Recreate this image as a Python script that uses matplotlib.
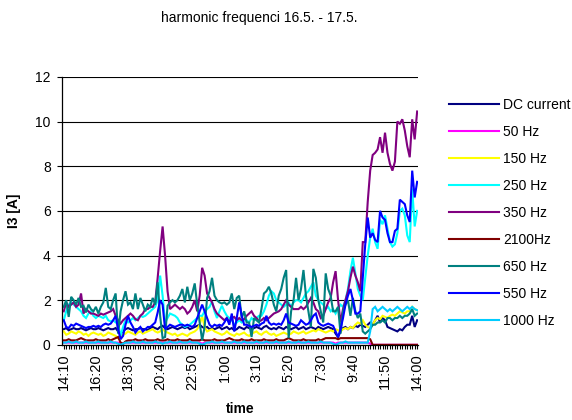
#!/usr/bin/env python3
"""Harmonic current I3 over one day, 16.5. - 17.5. (10 minute samples)."""

import matplotlib
matplotlib.use("Agg")
import matplotlib.pyplot as plt

plt.rcParams["font.family"] = ["Liberation Sans", "DejaVu Sans"]

# tick labels along the time axis (every 13th sample)
tick_labels = ["14:10", "16:20", "18:30", "20:40", "22:50", "1:00",
               "3:10", "5:20", "7:30", "9:40", "11:50", "14:00"]

series_names = ["DC current", "50 Hz", "150 Hz", "250 Hz", "350 Hz",
                "2100Hz", "650 Hz", "550 Hz", "1000 Hz"]

dc_current = [
    0.7, 0.75, 0.65, 0.7, 0.75, 0.7, 0.7, 0.75, 0.7, 0.65, 0.7, 0.75,
    0.7, 0.7, 0.75, 0.7, 0.65, 0.7, 0.75, 0.7, 0.7, 0.75, 0.6, 0.5,
    0.6, 0.7, 0.75, 0.7, 0.65, 0.7, 0.7, 0.75, 0.7, 0.7, 0.65, 0.75,
    0.8, 0.75, 0.7, 0.8, 0.85, 0.75, 0.7, 0.75, 0.8, 0.75, 0.7, 0.75,
    0.8, 0.75, 0.8, 0.7, 0.75, 0.8, 0.85, 0.9, 0.8, 0.75, 0.8, 0.7,
    0.75, 0.7, 0.75, 0.8, 0.7, 0.75, 0.8, 0.7, 0.75, 0.65, 0.7, 0.8,
    0.75, 0.7, 0.8, 0.75, 0.7, 0.75, 0.8, 0.75, 0.7, 0.8, 0.85, 0.75,
    0.7, 0.75, 0.7, 0.8, 0.75, 0.7, 0.8, 0.75, 0.7, 0.75, 0.8, 0.7,
    0.75, 0.8, 0.7, 0.75, 0.8, 0.75, 0.7, 0.8, 0.75, 0.7, 0.75, 0.8,
    0.75, 0.7, 0.5, 0.35, 0.6, 0.75, 0.8, 0.7, 0.8, 0.75, 0.85, 0.8,
    0.9, 0.85, 0.8, 0.9, 1.0, 0.9, 1.1, 1.3, 1.0, 1.2, 1.1, 0.8,
    0.75, 0.7, 0.65, 0.6, 0.7, 0.65, 0.8, 0.9, 0.9, 1.3, 0.8, 1.1,
]

hz_50 = [
    0.1, 0.1, 0.1, 0.1, 0.1, 0.1, 0.1, 0.1, 0.1, 0.1, 0.1, 0.1,
    0.1, 0.1, 0.1, 0.1, 0.1, 0.1, 0.1, 0.1, 0.1, 0.1, 0.1, 0.05,
    0.05, 0.1, 0.1, 0.1, 0.1, 0.1, 0.1, 0.1, 0.1, 0.1, 0.1, 0.1,
    0.1, 0.1, 0.1, 0.1, 0.1, 0.1, 0.1, 0.1, 0.1, 0.1, 0.1, 0.1,
    0.1, 0.1, 0.1, 0.1, 0.1, 0.1, 0.1, 0.1, 0.05, 0.1, 0.1, 0.1,
    0.1, 0.1, 0.1, 0.1, 0.1, 0.1, 0.1, 0.1, 0.1, 0.1, 0.1, 0.1,
    0.1, 0.1, 0.1, 0.1, 0.1, 0.1, 0.1, 0.1, 0.1, 0.1, 0.1, 0.1,
    0.1, 0.1, 0.1, 0.1, 0.1, 0.1, 0.1, 0.1, 0.1, 0.1, 0.1, 0.1,
    0.1, 0.1, 0.1, 0.1, 0.1, 0.1, 0.1, 0.1, 0.1, 0.1, 0.1, 0.1,
    0.1, 0.1, 0.05, 0.1, 0.1, 0.1, 0.1, 0.1, 0.1, 0.1, 0.1, 0.1,
    0.1, 0.1, 0.1, 0.1, 0.05, 0.0, 0.0, 0.0, 0.0, 0.0, 0.0, 0.0,
    0.0, 0.0, 0.0, 0.0, 0.0, 0.0, 0.0, 0.0, 0.0, 0.0, 0.0, 0.0,
]

hz_150 = [
    0.6, 0.45, 0.5, 0.6, 0.55, 0.5, 0.6, 0.55, 0.45, 0.5, 0.4, 0.5,
    0.55, 0.5, 0.45, 0.5, 0.4, 0.45, 0.55, 0.5, 0.45, 0.4, 0.3, 0.35,
    0.45, 0.5, 0.6, 0.55, 0.5, 0.45, 0.55, 0.6, 0.5, 0.55, 0.6, 0.65,
    0.7, 0.6, 0.55, 0.6, 0.7, 0.6, 0.55, 0.5, 0.45, 0.5, 0.4, 0.45,
    0.5, 0.45, 0.4, 0.5, 0.55, 0.6, 0.7, 0.9, 1.3, 0.8, 0.6, 0.65,
    0.7, 0.6, 0.55, 0.5, 0.45, 0.5, 0.6, 0.5, 0.45, 0.4, 0.5, 0.45,
    0.5, 0.55, 0.45, 0.4, 0.5, 0.55, 0.6, 0.5, 0.45, 0.55, 0.6, 0.5,
    0.45, 0.5, 0.4, 0.45, 0.5, 0.55, 0.5, 0.45, 0.5, 0.6, 0.55, 0.5,
    0.55, 0.6, 0.5, 0.55, 0.6, 0.65, 0.6, 0.7, 0.65, 0.6, 0.55, 0.6,
    0.65, 0.6, 0.7, 0.65, 0.6, 0.7, 0.75, 0.7, 0.8, 0.75, 0.9, 1.0,
    0.95, 1.1, 0.9, 0.8, 0.75, 0.9, 1.1, 1.2, 1.15, 1.3, 1.25, 1.2,
    1.3, 1.35, 1.3, 1.4, 1.5, 1.45, 1.4, 1.5, 1.5, 1.7, 1.6, 1.55,
]

hz_250 = [
    1.1, 1.5, 1.8, 1.9, 1.8, 1.7, 1.6, 1.5, 1.3, 1.2, 1.4, 1.5,
    1.3, 1.2, 1.3, 1.25, 1.2, 1.3, 1.1, 1.05, 1.1, 1.0, 0.95, 0.4,
    0.8, 1.1, 1.0, 1.1, 1.2, 1.1, 1.2, 1.3, 1.25, 1.3, 1.4, 1.5,
    1.6, 1.7, 2.0, 3.1, 2.2, 1.0, 1.2, 1.4, 1.35, 1.3, 1.2, 1.0,
    0.9, 0.8, 0.85, 0.9, 1.0, 1.1, 1.2, 1.3, 1.3, 1.5, 1.6, 1.7,
    1.95, 1.5, 1.2, 1.5, 1.75, 1.5, 1.3, 1.2, 1.1, 0.9, 1.0, 1.1,
    1.0, 1.1, 1.1, 1.0, 1.2, 1.1, 1.2, 1.3, 1.3, 1.5, 1.8, 2.2,
    2.4, 2.3, 2.0, 1.9, 1.8, 1.7, 1.8, 1.9, 1.7, 1.9, 2.0, 2.0,
    1.9, 2.1, 2.3, 2.4, 2.6, 2.8, 2.2, 2.0, 1.9, 1.8, 1.6, 1.7,
    1.5, 1.6, 1.4, 1.6, 1.8, 1.7, 2.0, 2.5, 3.3, 3.9, 3.2, 2.5,
    2.2, 2.0, 3.0, 4.0, 4.8, 5.2, 4.6, 4.3, 5.6, 5.4, 5.8, 5.2,
    4.6, 4.4, 4.5, 5.0, 6.0, 6.1, 5.8, 4.9, 4.6, 7.0, 5.3, 6.0,
]

hz_350 = [
    1.5, 1.9, 1.7, 1.8, 1.9, 1.7, 1.8, 2.3, 1.4, 1.6, 1.5, 1.4,
    1.4, 1.35, 1.3, 1.4, 1.35, 1.4, 1.45, 1.5, 1.6, 1.3, 1.1, 0.95,
    1.1, 1.2, 1.3, 1.4, 1.3, 1.15, 1.1, 1.3, 1.4, 1.6, 1.6, 1.7,
    1.7, 1.9, 3.0, 4.2, 5.3, 4.0, 2.4, 1.6, 1.7, 1.8, 1.7, 1.6,
    1.7, 1.6, 1.4, 1.5, 1.7, 2.0, 1.5, 2.2, 3.45, 3.1, 2.3, 2.1,
    1.9, 1.6, 1.4, 1.3, 1.2, 1.1, 1.2, 1.0, 1.2, 1.25, 1.1, 1.2,
    1.1, 1.15, 1.3, 1.4, 1.5, 1.3, 1.2, 1.05, 1.1, 1.2, 1.1, 1.2,
    1.3, 1.4, 1.45, 1.5, 1.6, 1.8, 2.0, 1.8, 1.7, 1.6, 1.6, 1.6,
    1.7, 1.6, 1.7, 1.9, 2.1, 1.9, 1.6, 1.5, 1.2, 1.3, 1.6, 1.9,
    2.1, 2.8, 3.3, 2.0, 1.0, 1.6, 2.0, 2.4, 3.0, 3.5, 3.1, 2.8,
    2.4, 4.6, 4.6, 6.4, 7.8, 8.5, 8.6, 8.75, 9.3, 8.6, 9.5, 8.6,
    8.1, 7.8, 8.2, 10.0, 9.9, 10.1, 9.6, 8.9, 8.4, 10.1, 9.2, 10.45,
]

hz_2100 = [
    0.2, 0.2, 0.25, 0.2, 0.2, 0.2, 0.25, 0.3, 0.25, 0.2, 0.2, 0.2,
    0.2, 0.25, 0.2, 0.2, 0.2, 0.2, 0.25, 0.2, 0.25, 0.3, 0.35, 0.1,
    0.05, 0.15, 0.2, 0.2, 0.2, 0.25, 0.2, 0.2, 0.2, 0.25, 0.2, 0.2,
    0.2, 0.2, 0.25, 0.2, 0.2, 0.2, 0.25, 0.2, 0.2, 0.2, 0.25, 0.2,
    0.2, 0.2, 0.2, 0.25, 0.2, 0.2, 0.2, 0.2, 0.25, 0.2, 0.2, 0.2,
    0.2, 0.25, 0.2, 0.2, 0.2, 0.2, 0.25, 0.3, 0.25, 0.2, 0.2, 0.2,
    0.25, 0.2, 0.2, 0.2, 0.25, 0.2, 0.2, 0.2, 0.2, 0.25, 0.2, 0.2,
    0.2, 0.2, 0.25, 0.2, 0.2, 0.2, 0.25, 0.3, 0.25, 0.2, 0.2, 0.2,
    0.2, 0.25, 0.2, 0.2, 0.2, 0.2, 0.2, 0.25, 0.2, 0.25, 0.3, 0.3,
    0.3, 0.3, 0.3, 0.25, 0.3, 0.3, 0.3, 0.3, 0.3, 0.3, 0.3, 0.3,
    0.3, 0.3, 0.3, 0.3, 0.25, 0.0, 0.0, 0.0, 0.0, 0.0, 0.0, 0.0,
    0.0, 0.0, 0.0, 0.0, 0.0, 0.0, 0.0, 0.0, 0.0, 0.0, 0.0, 0.0,
]

hz_650 = [
    1.7, 2.0, 1.25, 2.15, 2.0, 1.8, 2.1, 1.7, 1.75, 1.45, 1.8, 1.6,
    1.5, 1.7, 1.4, 1.7, 1.9, 2.55, 1.7, 1.6, 2.0, 2.3, 0.5, 1.5,
    2.0, 2.4, 1.8, 1.9, 1.6, 2.3, 1.6, 2.1, 1.8, 1.5, 1.8, 1.7,
    2.1, 1.8, 2.8, 1.3, 0.3, 0.35, 1.75, 1.9, 2.0, 1.9, 2.0, 2.2,
    2.5, 1.9, 2.6, 2.0, 2.3, 2.75, 1.8, 1.0, 0.2, 0.8, 2.1, 2.4,
    3.0, 2.2, 2.0, 1.9, 1.85, 1.9, 1.8, 1.9, 2.3, 1.6, 2.1, 2.2,
    1.2, 1.5, 1.0, 1.0, 0.35, 1.2, 1.1, 1.0, 1.6, 2.3, 2.4, 2.6,
    2.3, 1.8, 1.5, 2.2, 2.5, 3.0, 3.35, 0.3, 1.5, 2.0, 3.0, 2.0,
    2.5, 3.35, 2.2, 1.5, 0.8, 3.4, 3.0, 2.0, 1.5, 1.0, 3.2, 2.5,
    2.2, 1.5, 1.5, 1.7, 0.5, 1.5, 1.8, 2.0, 1.3, 2.1, 1.5, 1.2,
    1.4, 0.6, 0.5, 0.6, 0.7, 0.9, 0.9, 1.0, 1.0, 1.1, 1.0, 1.2,
    1.2, 1.1, 1.2, 1.2, 1.3, 1.2, 1.3, 1.3, 1.4, 1.6, 1.3, 1.4,
]

hz_550 = [
    1.1, 0.8, 0.75, 0.9, 0.85, 0.95, 0.9, 0.85, 0.8, 0.75, 0.8, 0.8,
    0.85, 0.8, 0.85, 0.8, 0.9, 0.95, 0.9, 0.95, 1.1, 1.3, 0.7, 0.25,
    0.4, 0.9, 1.3, 1.0, 0.8, 0.55, 0.7, 0.8, 0.6, 0.7, 0.8, 0.8,
    0.9, 1.0, 1.45, 2.0, 1.8, 0.7, 0.8, 0.9, 0.85, 0.8, 0.85, 0.9,
    0.9, 0.85, 0.9, 0.85, 0.8, 0.9, 1.2, 1.5, 1.8, 1.5, 1.2, 0.9,
    0.8, 0.9, 0.85, 0.9, 0.85, 1.0, 1.2, 0.9, 1.4, 0.6, 1.2, 1.9,
    1.3, 0.9, 0.9, 0.85, 0.8, 0.85, 0.9, 0.85, 0.95, 1.0, 1.3, 1.0,
    0.9, 0.95, 0.9, 0.95, 0.9, 1.1, 1.4, 1.0, 0.95, 0.9, 0.85, 0.9,
    1.1, 1.0, 0.9, 0.95, 1.1, 1.3, 1.4, 1.0, 0.9, 0.85, 0.9, 0.95,
    0.9, 0.85, 0.6, 0.35, 0.7, 1.2, 1.8, 2.2, 2.5, 2.0, 1.4, 1.4,
    1.5, 3.0, 4.5, 5.7, 4.8, 5.0, 4.7, 4.6, 6.0, 5.7, 5.6, 5.0,
    4.6, 4.6, 5.1, 5.2, 6.5, 6.4, 6.3, 5.8, 5.5, 7.8, 6.6, 7.3,
]

hz_1000 = [
    0.1, 0.1, 0.15, 0.1, 0.1, 0.15, 0.1, 0.1, 0.1, 0.15, 0.1, 0.1,
    0.1, 0.1, 0.15, 0.1, 0.1, 0.1, 0.1, 0.15, 0.1, 0.1, 0.05, 0.0,
    0.05, 0.1, 0.1, 0.1, 0.15, 0.1, 0.1, 0.1, 0.15, 0.1, 0.1, 0.1,
    0.1, 0.15, 0.1, 0.1, 0.05, 0.1, 0.1, 0.15, 0.1, 0.1, 0.1, 0.15,
    0.1, 0.1, 0.1, 0.15, 0.1, 0.1, 0.1, 0.05, 0.0, 0.05, 0.1, 0.1,
    0.15, 0.1, 0.1, 0.1, 0.15, 0.1, 0.1, 0.1, 0.1, 0.15, 0.1, 0.1,
    0.1, 0.15, 0.1, 0.1, 0.1, 0.1, 0.15, 0.1, 0.1, 0.1, 0.15, 0.1,
    0.1, 0.1, 0.15, 0.1, 0.1, 0.1, 0.1, 0.15, 0.1, 0.1, 0.1, 0.15,
    0.1, 0.1, 0.1, 0.15, 0.1, 0.1, 0.1, 0.1, 0.15, 0.1, 0.1, 0.1,
    0.1, 0.05, 0.0, 0.05, 0.1, 0.1, 0.15, 0.1, 0.1, 0.1, 0.1, 0.1,
    0.1, 0.1, 0.1, 0.1, 0.6, 1.6, 1.7, 1.5, 1.6, 1.7, 1.6, 1.5,
    1.6, 1.5, 1.6, 1.7, 1.6, 1.5, 1.6, 1.7, 1.6, 1.7, 1.6, 1.55,
]

series_values = [dc_current, hz_50, hz_150, hz_250, hz_350,
                 hz_2100, hz_650, hz_550, hz_1000]
colors = ["#000080", "#FF00FF", "#FFFF00", "#00FFFF", "#800080",
          "#800000", "#008080", "#0000FF", "#00CCFF"]

n_points = len(dc_current)

fig = plt.figure(figsize=(5.72, 4.2), dpi=100)
ax = fig.add_axes([0.108, 0.179, 0.623, 0.638])

for name, vals, col in zip(series_names, series_values, colors):
    ax.plot(range(len(vals)), vals, color=col, lw=1.5, label=name,
            solid_joinstyle="miter")

# axes / grid
ax.set_ylim(0, 12)
ax.set_yticks(range(0, 13, 2))
ax.set_xlim(-0.8, n_points - 0.6)
ax.yaxis.grid(True, color="black", lw=0.8)
ax.set_axisbelow(True)
for side in ["top", "right"]:
    ax.spines[side].set_visible(False)
ax.spines["left"].set_linewidth(0.9)
ax.spines["bottom"].set_linewidth(0.9)

ax.set_xticks(range(n_points))
labels = [""] * n_points
for k, lab in enumerate(tick_labels):
    labels[k * 13] = lab
ax.set_xticklabels(labels, rotation=90, fontsize=10.5)
ax.tick_params(axis="x", direction="out", length=3, width=0.8, pad=3)
ax.tick_params(axis="y", direction="out", length=3.5, width=0.8,
               pad=4.5, labelsize=10)

ax.set_ylabel("I3 [A]", fontsize=10, fontweight="bold")
ax.yaxis.set_label_coords(-0.115, 0.5)
fig.text(0.42, 0.026, "time", ha="center", va="center",
         fontsize=10, fontweight="bold")
fig.text(0.453, 0.958, "harmonic frequenci 16.5. - 17.5.",
         ha="center", va="center", fontsize=10)

ax.legend(loc="upper left", bbox_to_anchor=(0.785, 0.767),
          bbox_transform=fig.transFigure, frameon=False, fontsize=10,
          handlelength=3.6, handletextpad=0.3, labelspacing=0.94,
          borderpad=0, borderaxespad=0)

fig.savefig("out.png", dpi=100, facecolor="white")
